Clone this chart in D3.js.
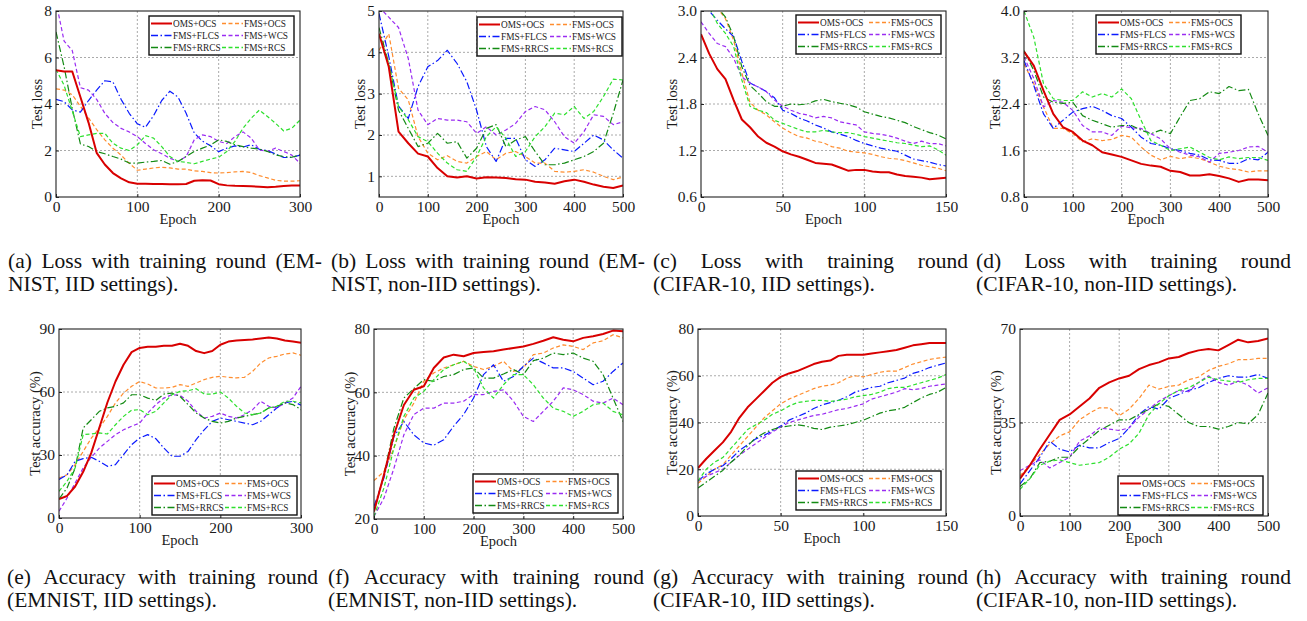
<!DOCTYPE html>
<meta charset="utf-8">
<head>
  <script src="https://d3js.org/d3.v7.min.js"></script>
  <style>
    body { margin: 0; background: #fff; }
    text { font-family: "Liberation Serif", "Times New Roman", serif; }
  </style>
</head>
<body>
<script type="text/javascript">

var w = 1307;
var h = 621;

// ---- data ----
var methods = ["OMS+OCS", "FMS+OCS", "FMS+FLCS", "FMS+WCS", "FMS+RRCS", "FMS+RCS"];

var epochs300 = [0,10,20,30,40,50,60,70,80,90,100,110,120,130,140,150,160,170,180,190,200,210,220,230,240,250,260,270,280,290,300];
var epochs500 = [0,20,40,60,80,100,120,140,160,180,200,220,240,260,280,300,320,340,360,380,400,420,440,460,480,500];
var epochs150 = [0,5,10,15,20,25,30,35,40,45,50,55,60,65,70,75,80,85,90,95,100,105,110,115,120,125,130,135,140,145,150];

var xTicks300 = [0,100,200,300];
var xTicks500 = [0,100,200,300,400,500];
var xTicks150 = [0,50,100,150];

var yTicksA = [0,2,4,6,8];
var yTicksB = [1,2,3,4,5];
var yTicksC = [0.6,1.2,1.8,2.4,3.0];
var yTicksD = [0.8,1.6,2.4,3.2,4.0];
var yTicksE = [0,30,60,90];
var yTicksF = [20,40,60,80];
var yTicksG = [0,20,40,60,80];
var yTicksH = [0,35,70];

// (a) loss, EMNIST IID
var aOMS_OCS  = [5.45,5.4,5.4,4.3,3.2,1.9,1.4,1.03,0.8,0.63,0.57,0.57,0.56,0.56,0.55,0.55,0.56,0.7,0.72,0.71,0.55,0.5,0.48,0.47,0.46,0.44,0.42,0.44,0.47,0.49,0.5];
var aFMS_OCS  = [4.65,4.6,4.4,3.9,3.4,2.9,2.46,2.1,1.8,1.45,1.15,1.2,1.25,1.28,1.25,1.2,1.2,1.12,1.1,1.05,1.03,1.05,1.08,1.1,1.05,0.92,0.82,0.72,0.68,0.68,0.7];
var aFMS_FLCS = [4.2,4.1,3.75,3.65,4.15,4.6,5.0,4.95,4.2,3.6,3.15,3.0,3.5,4.15,4.55,4.3,3.6,2.75,2.4,2.2,1.95,2.1,2.2,2.15,2.25,2.05,2.0,1.85,1.7,1.7,1.8];
var aFMS_WCS  = [8.4,6.7,6.3,4.7,4.6,4.2,3.6,3.2,2.95,2.8,2.6,2.3,2.03,1.86,1.67,1.53,1.74,2.46,2.67,2.6,2.39,2.3,2.6,2.8,2.53,2.03,1.96,2.1,1.96,1.8,1.45];
var aFMS_RRCS = [7.1,5.6,3.8,2.28,2.17,1.96,1.86,1.74,1.63,1.46,1.46,1.5,1.53,1.57,1.41,1.53,1.74,1.96,2.1,2.24,2.46,2.39,2.24,2.17,2.1,2.06,1.96,1.81,1.74,1.71,1.81];
var aFMS_RCS  = [5.5,4.8,3.7,2.6,2.67,2.74,2.74,2.31,2.1,2.0,2.24,2.64,2.53,2.17,1.74,1.53,1.49,1.43,1.53,1.63,1.71,1.96,2.39,2.96,3.39,3.74,3.46,3.17,2.84,2.96,3.31];

// (b) loss, EMNIST non-IID
var bOMS_OCS  = [4.45,3.65,2.08,1.8,1.55,1.48,1.2,1.0,0.97,1.0,0.95,0.98,0.97,0.96,0.93,0.92,0.87,0.85,0.82,0.88,0.92,0.87,0.8,0.75,0.72,0.78];
var bFMS_OCS  = [4.05,4.45,3.13,2.85,1.96,1.56,1.4,1.5,1.36,1.32,1.48,1.6,1.4,1.56,1.6,1.48,1.32,1.32,1.12,1.1,1.12,1.16,1.1,1.0,0.92,0.98];
var bFMS_FLCS = [4.94,3.9,2.7,2.4,3.17,3.65,3.8,4.05,3.73,3.29,2.6,1.72,1.36,1.92,1.92,1.4,1.24,1.4,1.68,1.64,1.6,1.8,2.0,1.88,1.64,1.44];
var bFMS_WCS  = [5.1,4.85,4.6,3.85,2.6,2.25,2.4,2.36,2.36,2.32,2.04,2.2,2.0,2.12,2.28,2.57,2.69,2.61,2.32,1.96,1.8,2.08,2.49,2.45,2.25,2.32];
var bFMS_RRCS = [4.6,3.73,2.6,2.16,1.72,1.8,2.04,1.8,1.84,1.44,1.68,2.16,2.25,1.72,1.88,1.96,1.6,1.28,1.28,1.32,1.4,1.48,1.6,1.8,2.52,3.33];
var bFMS_RCS  = [4.45,3.73,2.69,2.37,1.96,1.84,1.56,1.32,1.16,1.12,1.48,1.96,2.2,1.92,1.48,1.6,1.96,2.2,2.53,2.49,2.69,2.4,2.57,2.93,3.35,3.33];

// (c) loss, CIFAR-10 IID
var cOMS_OCS  = [2.7,2.45,2.25,2.12,1.85,1.6,1.5,1.38,1.3,1.25,1.19,1.15,1.12,1.08,1.04,1.03,1.02,0.98,0.94,0.95,0.95,0.93,0.92,0.92,0.89,0.87,0.86,0.85,0.83,0.84,0.85];
var cFMS_OCS  = [3.2,3.12,3.04,2.9,2.62,2.2,1.82,1.72,1.66,1.57,1.49,1.43,1.38,1.36,1.32,1.3,1.25,1.23,1.19,1.18,1.17,1.15,1.12,1.1,1.09,1.07,1.04,1.01,0.99,0.97,0.94];
var cFMS_FLCS = [3.1,3.0,2.88,2.77,2.67,2.35,2.07,2.02,1.96,1.88,1.72,1.68,1.62,1.58,1.53,1.49,1.44,1.41,1.38,1.33,1.29,1.26,1.23,1.21,1.19,1.14,1.09,1.07,1.05,1.02,1.0];
var cFMS_WCS  = [2.86,2.71,2.58,2.54,2.39,2.15,2.07,2.02,1.96,1.85,1.77,1.72,1.68,1.66,1.62,1.64,1.62,1.57,1.55,1.53,1.44,1.42,1.41,1.39,1.36,1.32,1.29,1.32,1.29,1.29,1.26];
var cFMS_RRCS = [3.2,3.15,3.05,2.92,2.67,2.28,2.04,1.94,1.83,1.77,1.77,1.8,1.79,1.8,1.84,1.86,1.83,1.81,1.79,1.76,1.7,1.67,1.64,1.62,1.59,1.56,1.51,1.47,1.43,1.4,1.35];
var cFMS_RCS  = [3.15,3.05,2.84,2.71,2.54,2.11,1.77,1.72,1.69,1.59,1.55,1.51,1.47,1.44,1.44,1.46,1.44,1.43,1.43,1.41,1.38,1.36,1.34,1.32,1.3,1.29,1.27,1.25,1.26,1.21,1.14];

// (d) loss, CIFAR-10 non-IID
var dOMS_OCS  = [3.3,3.06,2.63,2.23,2.0,1.92,1.77,1.69,1.57,1.53,1.49,1.43,1.37,1.34,1.32,1.25,1.23,1.17,1.17,1.19,1.16,1.12,1.06,1.1,1.1,1.09];
var dFMS_OCS  = [3.09,2.75,2.35,1.98,1.98,1.89,1.75,1.8,1.77,1.79,1.86,1.83,1.66,1.52,1.44,1.5,1.46,1.49,1.46,1.4,1.33,1.29,1.27,1.23,1.25,1.25];
var dFMS_FLCS = [3.15,2.72,2.23,1.98,2.12,2.26,2.32,2.36,2.29,2.2,2.15,2.0,1.83,1.72,1.69,1.63,1.6,1.55,1.52,1.44,1.43,1.38,1.38,1.46,1.44,1.57];
var dFMS_WCS  = [3.21,2.84,2.35,2.46,2.43,2.29,2.03,1.92,1.92,1.86,2.02,1.99,1.98,1.89,1.8,1.63,1.57,1.52,1.49,1.4,1.55,1.57,1.6,1.66,1.67,1.57];
var dFMS_RRCS = [3.32,2.98,2.52,2.43,2.41,2.43,2.2,2.12,2.06,2.0,2.03,2.03,1.95,1.89,1.95,1.89,2.18,2.46,2.49,2.61,2.58,2.7,2.63,2.65,2.23,1.86];
var dFMS_RCS  = [4.0,3.55,2.75,2.49,2.46,2.46,2.61,2.52,2.58,2.52,2.66,2.49,2.12,1.77,1.69,1.6,1.63,1.66,1.57,1.48,1.44,1.49,1.46,1.48,1.48,1.43];

// (e) accuracy, EMNIST IID
var eOMS_OCS  = [9,10.5,15,22,31,43,55,65,73,79,81,81.5,81.5,82,82,83,82,79.5,78.5,79.5,82.5,84,84.5,84.8,85,85.5,86,85.5,84.5,84,83.5];
var eFMS_OCS  = [19,20.6,25.4,31.7,38,42.9,48.4,54.8,59.5,62.7,65,63.8,61.9,61.9,62.2,63.5,62.7,64.3,65.9,67,67.5,67,66.7,67,69.8,73.8,76.2,77,78.1,78.6,77.5];
var eFMS_FLCS = [18.3,20.6,27,28.3,28.9,27,24.6,25.4,30.2,34.9,38.1,39.7,37.8,33.3,29.4,29.4,31.7,37.3,42,46,47.6,46.8,46,45.2,44.4,46,49.2,52.4,54.8,55.6,53.7];
var eFMS_WCS  = [3.2,9.5,16.7,23.8,28.9,33.3,36.5,39.7,42,43.7,45.2,50,54,57.1,58.7,58.4,55.6,50.8,47.6,48.4,50,48.4,47.6,49.2,51.6,55.6,53.2,52.4,54.8,57.1,62.7];
var eFMS_RRCS = [9,14.3,23.8,42.9,46.8,50.8,52.4,53.2,54.8,58.7,58.7,57.1,56,59,59.5,57.9,54,50,47.6,46,45.2,46,47.6,48.4,49.2,50,52.4,53.2,54.8,54,51.6];
var eFMS_RCS  = [12.7,17.5,23.8,39.7,40,40.5,40,44.4,48.4,51.3,51.6,49.2,50.8,54.8,58.7,60.3,60.6,61.6,59,59,60,57.1,53.2,50,49.2,50,52.4,53.2,55.6,55.6,54.8];

// (f) accuracy, EMNIST non-IID
var fOMS_OCS  = [22.4,34,46.6,56,60.8,61.9,67.7,71,71.9,71.4,72.4,72.7,73,73.5,74,74.5,75.3,76.3,77.4,76.6,76.1,77.2,77.7,78.4,79.5,79.3];
var fFMS_OCS  = [32.1,35,42.4,51.4,56.6,63.5,66.1,67.7,68.7,69.8,68.2,67.2,68.2,69.8,66.6,67.7,71.9,72.4,74,75,74.5,73.5,75.6,76.3,78.2,77.2];
var fFMS_FLCS = [24,33,46,50.8,46.6,44,43.3,45,49.3,53,58.2,65.6,68.7,63.5,65,68.2,70.8,69.3,67.7,67.7,66.6,64.5,62.4,63.5,66.6,69.3];
var fFMS_WCS  = [20.8,26.6,36,46.6,53,55,55,56.6,56.6,57.2,59.3,59.3,60.3,60.8,57.2,52.4,50.8,54,57.2,61.4,60.8,59.3,57.2,56.6,58.2,56.1];
var fFMS_RRCS = [22.4,34,48.7,58.2,61.2,64,63.5,65,65.6,67.2,67.7,64.5,64.5,65.8,67.2,65.6,70,70.8,72.4,71.9,72.4,70.8,69.8,65.6,58.2,50.8];
var fFMS_RCS  = [20.8,29.8,42.4,52.4,58.2,60.3,64,67.2,68.7,69.8,67.7,61.4,58.2,62.4,65.6,65.6,62.4,58.2,55,54,52.4,54,56.1,56.6,54,52.9];

// (g) accuracy, CIFAR-10 IID
var gOMS_OCS  = [20.5,24.5,28,31.5,36,42,46.5,50,53.5,57,59.5,61,62,63.5,65,66,66.5,68.5,69,69,69,69.5,70,70.5,71,72,73,73.5,74,74,74];
var gFMS_OCS  = [14,17,20,22,26,30,34,38,42,45,48,50,51.5,53,54.5,55.5,56,57,59,60,59.5,60.5,61.5,62,62,63.5,65,66,67,67.5,68];
var gFMS_FLCS = [15,18,20,21.5,24.5,28,30.5,33,34.5,36.5,38.5,41,42.5,44,46,47.5,48.5,49.5,51,53,54,55,55.5,57,58,59,61,62,63.5,64.5,65.5];
var gFMS_WCS  = [15,17,18.5,20,23,26,28.5,31,33.5,36,38,40,41,42,43,43.5,44.5,45.5,46,47,48,50,51,52,53,54.5,54,54.5,55.5,56,56.5];
var gFMS_RRCS = [12,14.5,17,19.5,23,26,30,33.5,35.5,37,38,38.5,39,38.5,37.5,37,38,38.5,39,40,41,42.5,44,45,45.5,46.5,48.5,50.5,52,53,55];
var gFMS_RCS  = [15,20,23,25,29,33,37,39,41,43.5,45,47,48.5,49,49.5,49.5,49,49.5,50,51,51.5,52,53,54.5,55,55,56,57,58,59,60.5];

// (h) accuracy, CIFAR-10 non-IID
var hOMS_OCS  = [14,19,25,30.5,36,38,41,44,48,50,51.5,52.5,55,56.5,57.5,59,59.5,61,62,62.5,62,64,66,65,65.5,66.5];
var hFMS_OCS  = [15,19,23,27,30,31.5,36,38.5,40.5,40.5,37.5,40,44,49,47.5,48.5,49,51,52,54.5,56,57,58.5,58.5,59,59];
var hFMS_FLCS = [12,17,22,28,25,24,26.5,25.5,25.5,27.5,29,33,38,41,40,44,45.5,47,48,50,51.5,52.5,52,52,53,51.5];
var hFMS_WCS  = [17,19,21,18,20,22,28,30,33,32.5,32,33,37,40,43,45,47,46.5,50,52.5,50,49,50.5,49,46,48];
var hFMS_RRCS = [11,14,20,20.5,22,22,26,29,32,34,36,36,38,40,42,41,38,35,33.5,33.5,32.5,33.5,35,34.5,38,46];
var hFMS_RCS  = [10,14,19,20.5,21,20,19,19.5,20,22,25,27,31,38,42,45,47,48,50,52,51,50.5,50,51,51.5,51.5];

var captions = [
  ["(a) Loss with training round (EM-", "NIST, IID settings)."],
  ["(b) Loss with training round (EM-", "NIST, non-IID settings)."],
  ["(c) Loss with training round", "(CIFAR-10, IID settings)."],
  ["(d) Loss with training round", "(CIFAR-10, non-IID settings)."],
  ["(e) Accuracy with training round", "(EMNIST, IID settings)."],
  ["(f) Accuracy with training round", "(EMNIST, non-IID settings)."],
  ["(g) Accuracy with training round", "(CIFAR-10, IID settings)."],
  ["(h) Accuracy with training round", "(CIFAR-10, non-IID settings)."]
];

// ---- styles ----
var colors = ["#d80000", "#ff8d2e", "#0a1aff", "#9a2cf2", "#138a13", "#2ee02e"];
var dashes = [null, "4,2.5", "7,2.5,1.5,2.5", "4,2.5", "7,2.5,1.5,2.5", "4,2.5"];
var widths = [2, 1.2, 1.2, 1.2, 1.2, 1.2];

var panels = [
  {x: epochs300, ys: [aOMS_OCS,aFMS_OCS,aFMS_FLCS,aFMS_WCS,aFMS_RRCS,aFMS_RCS], dom: [0,8], xt: xTicks300, yt: yTicksA, fmt: "d", ylab: "Test loss"},
  {x: epochs500, ys: [bOMS_OCS,bFMS_OCS,bFMS_FLCS,bFMS_WCS,bFMS_RRCS,bFMS_RCS], dom: [0.5,5], xt: xTicks500, yt: yTicksB, fmt: "d", ylab: "Test loss"},
  {x: epochs150, ys: [cOMS_OCS,cFMS_OCS,cFMS_FLCS,cFMS_WCS,cFMS_RRCS,cFMS_RCS], dom: [0.6,3.0], xt: xTicks150, yt: yTicksC, fmt: ".1f", ylab: "Test loss"},
  {x: epochs500, ys: [dOMS_OCS,dFMS_OCS,dFMS_FLCS,dFMS_WCS,dFMS_RRCS,dFMS_RCS], dom: [0.8,4.0], xt: xTicks500, yt: yTicksD, fmt: ".1f", ylab: "Test loss"},
  {x: epochs300, ys: [eOMS_OCS,eFMS_OCS,eFMS_FLCS,eFMS_WCS,eFMS_RRCS,eFMS_RCS], dom: [0,90], xt: xTicks300, yt: yTicksE, fmt: "d", ylab: "Test accuracy (%)"},
  {x: epochs500, ys: [fOMS_OCS,fFMS_OCS,fFMS_FLCS,fFMS_WCS,fFMS_RRCS,fFMS_RCS], dom: [20,80], xt: xTicks500, yt: yTicksF, fmt: "d", ylab: "Test accuracy (%)"},
  {x: epochs150, ys: [gOMS_OCS,gFMS_OCS,gFMS_FLCS,gFMS_WCS,gFMS_RRCS,gFMS_RCS], dom: [0,80], xt: xTicks150, yt: yTicksG, fmt: "d", ylab: "Test accuracy (%)"},
  {x: epochs500, ys: [hOMS_OCS,hFMS_OCS,hFMS_FLCS,hFMS_WCS,hFMS_RRCS,hFMS_RCS], dom: [0,70], xt: xTicks500, yt: yTicksH, fmt: "d", ylab: "Test accuracy (%)"}
];

// plot boxes, legend corner, y-label offset, caption column
var layout = [
  {l: 56,   r: 300,  t: 11,  b: 197, lx: 149,  ly: 16,  yo: 14, cx: 8,   cw: 314, cy: 268},
  {l: 379,  r: 623,  t: 11,  b: 197, lx: 477,  ly: 17,  yo: 14, cx: 331, cw: 314, cy: 268},
  {l: 701,  r: 946,  t: 11,  b: 197, lx: 796,  ly: 15,  yo: 24, cx: 653, cw: 315, cy: 268},
  {l: 1024, r: 1268, t: 11,  b: 197, lx: 1096, ly: 15,  yo: 24, cx: 976, cw: 315, cy: 268},
  {l: 59,   r: 301,  t: 329, b: 518, lx: 152,  ly: 476, yo: 19, cx: 7,   cw: 311, cy: 584},
  {l: 374,  r: 623,  t: 329, b: 519, lx: 473,  ly: 474, yo: 19, cx: 328, cw: 316, cy: 584},
  {l: 698,  r: 946,  t: 329, b: 516, lx: 796,  ly: 471, yo: 21, cx: 653, cw: 315, cy: 584},
  {l: 1020, r: 1268, t: 329, b: 516, lx: 1118, ly: 476, yo: 19, cx: 976, cw: 315, cy: 584}
];

var svg = d3.select("body").append("svg")
    .attr("width", w)
    .attr("height", h);

svg.append("rect").attr("width", w).attr("height", h).attr("fill", "#fff");

panels.forEach(function(p, k) {
  var L = layout[k];
  var x = d3.scaleLinear().domain(d3.extent(p.x)).range([L.l, L.r]);
  var y = d3.scaleLinear().domain(p.dom).range([L.b, L.t]);
  var g = svg.append("g");

  // dotted grid
  g.selectAll(".gx")
    .data(p.xt.filter(function(t){ return t > x.domain()[0] && t < x.domain()[1]; }))
    .enter().append("line")
    .attr("x1", function(d){ return x(d); }).attr("x2", function(d){ return x(d); })
    .attr("y1", L.t).attr("y2", L.b)
    .attr("stroke", "#a0a0a0").attr("stroke-width", 0.9).attr("stroke-dasharray", "2,2");
  g.selectAll(".gy")
    .data(p.yt.filter(function(t){ return t > p.dom[0] + 1e-9 && t < p.dom[1] - 1e-9; }))
    .enter().append("line")
    .attr("y1", function(d){ return y(d); }).attr("y2", function(d){ return y(d); })
    .attr("x1", L.l).attr("x2", L.r)
    .attr("stroke", "#a0a0a0").attr("stroke-width", 0.9).attr("stroke-dasharray", "2,2");

  // clip lines to the plot box
  svg.append("clipPath").attr("id", "clip" + k)
    .append("rect").attr("x", L.l).attr("y", L.t).attr("width", L.r - L.l).attr("height", L.b - L.t);

  var line = d3.line()
    .x(function(d, i){ return x(p.x[i]); })
    .y(function(d){ return y(d); });

  var order = [1, 2, 3, 4, 5, 0];
  var lg = g.append("g").attr("clip-path", "url(#clip" + k + ")");
  order.forEach(function(s) {
    lg.append("path")
      .datum(p.ys[s])
      .attr("d", line)
      .attr("fill", "none")
      .attr("stroke", colors[s])
      .attr("stroke-width", widths[s])
      .attr("stroke-dasharray", dashes[s])
      .attr("stroke-linejoin", "round");
  });

  // axes
  var xa = d3.axisBottom(x).tickValues(p.xt).tickSize(-3).tickPadding(4).tickFormat(d3.format("d"));
  var ya = d3.axisLeft(y).tickValues(p.yt).tickSize(-3).tickPadding(4).tickFormat(d3.format(p.fmt));
  var gx = g.append("g").attr("transform", "translate(0," + L.b + ")").call(xa);
  var gy = g.append("g").attr("transform", "translate(" + L.l + ",0)").call(ya);
  [gx, gy].forEach(function(a) {
    a.select(".domain").remove();
    a.attr("font-family", null).attr("font-size", null);
    a.selectAll("text").attr("font-size", 15.5).attr("fill", "#1a1a1a");
    a.selectAll("line").attr("stroke", "#222");
  });

  g.append("rect")
    .attr("x", L.l).attr("y", L.t).attr("width", L.r - L.l).attr("height", L.b - L.t)
    .attr("fill", "none").attr("stroke", "#222").attr("stroke-width", 1.1);

  g.append("text")
    .attr("x", (L.l + L.r) / 2).attr("y", L.b + 27)
    .attr("text-anchor", "middle").attr("font-size", 14.5).attr("fill", "#1a1a1a")
    .text("Epoch");

  g.append("text")
    .attr("transform", "translate(" + (L.l - L.yo) + "," + ((L.t + L.b) / 2) + ") rotate(-90)")
    .attr("text-anchor", "middle").attr("font-size", 14.5).attr("fill", "#1a1a1a")
    .text(p.ylab);

  // legend
  var leg = g.append("g").attr("transform", "translate(" + L.lx + "," + L.ly + ")");
  leg.append("rect").attr("width", 145).attr("height", 39)
    .attr("fill", "#fff").attr("stroke", "#111").attr("stroke-width", 1.4);
  methods.forEach(function(m, i) {
    var col = i % 2, row = Math.floor(i / 2);
    var ox = col === 0 ? 2 : 73;
    var oy = 7.5 + row * 12;
    leg.append("line")
      .attr("x1", ox).attr("x2", ox + 21).attr("y1", oy).attr("y2", oy)
      .attr("stroke", colors[i]).attr("stroke-width", i === 0 ? 2 : 1.4)
      .attr("stroke-dasharray", dashes[i]);
    leg.append("text")
      .attr("x", ox + 22).attr("y", oy + 3.2)
      .attr("font-size", 9.3).attr("fill", "#222")
      .text(m);
  });

  // caption: first line justified, second left
  var words = captions[k][0].split(" ");
  var els = words.map(function(wd) {
    return svg.append("text").attr("y", L.cy).attr("font-size", 21.5).attr("fill", "#111").text(wd);
  });
  var lens = els.map(function(e) { return e.node().getComputedTextLength(); });
  var gap = (L.cw - d3.sum(lens)) / (words.length - 1);
  var cx = L.cx;
  els.forEach(function(e, i) { e.attr("x", cx); cx += lens[i] + gap; });
  svg.append("text")
    .attr("x", L.cx).attr("y", L.cy + 23)
    .attr("font-size", 21.5).attr("fill", "#111")
    .text(captions[k][1]);
});

</script>
</body>
